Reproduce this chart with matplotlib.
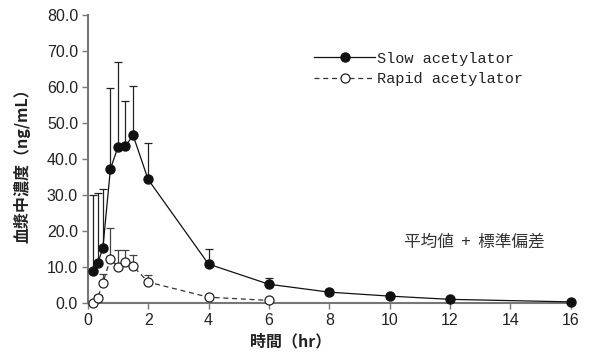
import matplotlib
matplotlib.use("Agg")
import matplotlib.pyplot as plt
import numpy as np

time_hr = [0.17, 0.33, 0.5, 0.75, 1.0, 1.25, 1.5, 2, 4, 6, 8, 10, 12, 16]
slow_mean = [9.0, 11.0, 15.2, 37.2, 43.3, 43.5, 46.6, 34.3, 10.8, 5.2, 3.0, 1.9, 1.0, 0.3]
slow_sd = [21.1, 19.5, 16.5, 22.4, 23.6, 12.6, 13.8, 10.1, 4.2, 1.6, 1.0, 0.3, 0.2, 0.1]
rapid_time = [0.17, 0.33, 0.5, 0.75, 1.0, 1.25, 1.5, 2, 4, 6]
rapid_mean = [0.1, 1.5, 5.5, 12.3, 10.1, 11.3, 10.2, 5.8, 1.6, 0.7]
rapid_sd = [0.2, 0.8, 2.5, 8.5, 4.6, 3.4, 3.2, 2.0, 0.5, 0.3]

x_ticks = [0, 2, 4, 6, 8, 10, 12, 14, 16]
y_ticks = [0, 10, 20, 30, 40, 50, 60, 70, 80]

jp = ["Noto Sans CJK JP", "DejaVu Sans"]
plt.rcParams["font.family"] = ["Liberation Sans", "Noto Sans CJK JP", "DejaVu Sans"]

fig = plt.figure(figsize=(5.89, 3.56), dpi=100)
ax = fig.add_axes([0.149, 0.149, 0.820, 0.809])

zeros = [0] * len(slow_sd)
ax.errorbar(time_hr, slow_mean, yerr=[zeros, slow_sd], fmt="none",
            ecolor="#222222", elinewidth=0.9, capsize=3, capthick=0.9, zorder=2)
ax.errorbar(rapid_time, rapid_mean, yerr=[[0] * len(rapid_sd), rapid_sd], fmt="none",
            ecolor="#444444", elinewidth=0.9, capsize=3, capthick=0.9, zorder=2)

l1, = ax.plot(time_hr, slow_mean, "-", color="#111111", lw=0.9, marker="o",
              ms=6.5, mfc="#111111", mec="#111111", zorder=3, clip_on=False,
              label="Slow acetylator")
l2, = ax.plot(rapid_time, rapid_mean, "--", color="#333333", lw=0.9, marker="o",
              ms=6.5, mfc="white", mec="#222222", mew=0.9, zorder=3, clip_on=False,
              dashes=(4, 3), label="Rapid acetylator")

ax.set_xlim(0, 16)
ax.set_ylim(0, 80)
ax.set_xticks(x_ticks)
ax.set_xticklabels([str(v) for v in x_ticks])
ax.set_yticks(y_ticks)
ax.set_yticklabels([f"{v:.1f}" for v in y_ticks])
ax.tick_params(axis="both", direction="out", length=4, width=1, color="#777777",
               labelsize=11.5, labelcolor="#222222", pad=3)
for s in ["top", "right"]:
    ax.spines[s].set_visible(False)
for s in ["left", "bottom"]:
    ax.spines[s].set_color("#777777")
    ax.spines[s].set_linewidth(1.5)

ax.set_xlabel("時間（hr）", fontsize=11.5, family=jp, fontweight="bold", color="#222222")
ax.xaxis.set_label_coords(0.42, -0.105)
ax.set_ylabel("血漿中濃度（ng/mL）", fontsize=11.5, family=jp, fontweight="bold", color="#222222")
ax.yaxis.set_label_coords(-0.118, 0.49)

leg = ax.legend(handles=[l1, l2], loc="upper left", bbox_to_anchor=(0.44, 0.92),
                frameon=False, handlelength=4, handletextpad=0.1, labelspacing=0.4,
                prop={"family": "Liberation Mono", "size": 11})
for t in leg.get_texts():
    t.set_color("#222222")

ax.text(12.8, 17.0, "平均値  +  標準偏差", family=jp, fontsize=12, color="#333333",
        ha="center", va="center")

fig.savefig("out.png", dpi=100)
